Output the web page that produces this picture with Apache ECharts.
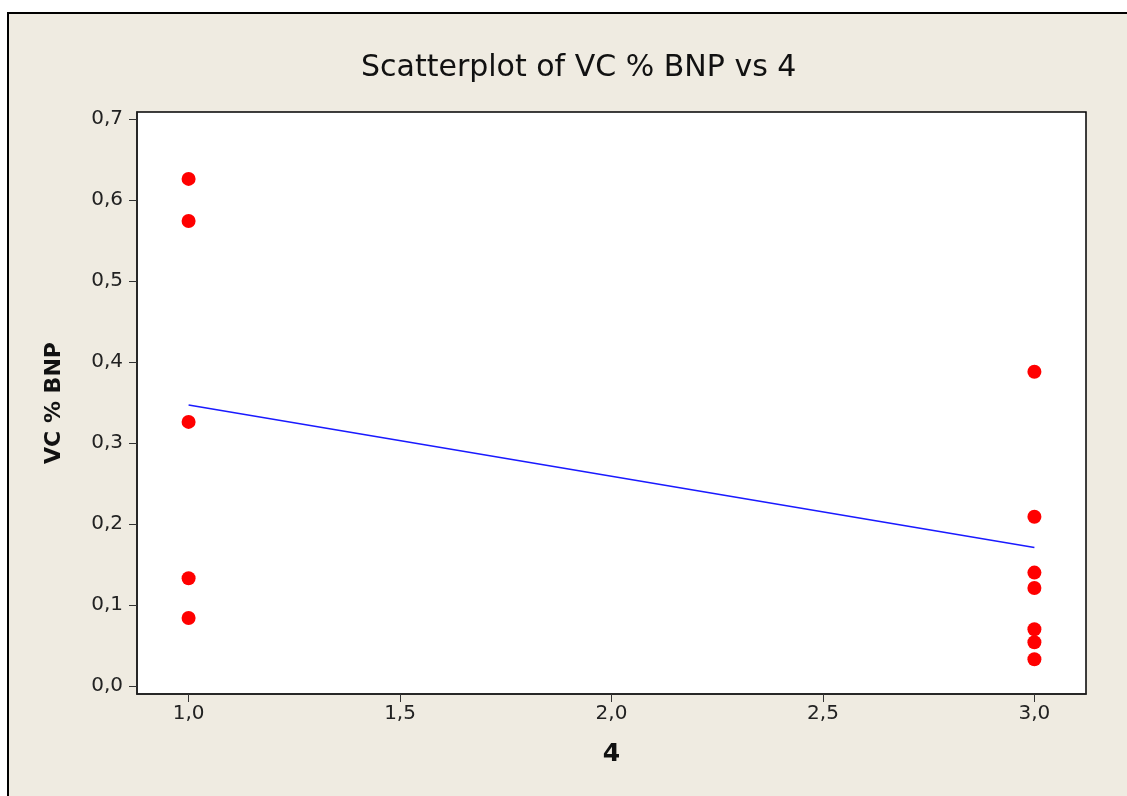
<!DOCTYPE html>
<html>
<head>
<meta charset="utf-8">
<script src="https://cdn.jsdelivr.net/npm/echarts@6/dist/echarts.min.js"></script>
<style>
  html, body { margin: 0; padding: 0; background: #fff; }
  #main { width: 1127px; height: 796px; }
</style>
</head>
<body>
<div id="main"></div>
<script>
var myChart = echarts.init(document.getElementById('main'), null, {renderer: 'canvas'});

// points
var groupX = [1, 1, 1, 1, 1, 3, 3, 3, 3, 3, 3, 3];
var bnpValues = [0.626, 0.574, 0.326, 0.133, 0.084, 0.388, 0.209, 0.140, 0.121, 0.070, 0.054, 0.033];
// fitted line ends
var fitX = [1, 3];
var fitY = [0.347, 0.171];
// tick labels
var xTicks = [1.0, 1.5, 2.0, 2.5, 3.0];
var yTicks = [0.0, 0.1, 0.2, 0.3, 0.4, 0.5, 0.6, 0.7];

var pts = groupX.map(function (x, i) { return [x, bnpValues[i]]; });
var fitPts = fitX.map(function (x, i) { return [x, fitY[i]]; });

function comma(v) { return v.toFixed(1).replace('.', ','); }

var font = 'DejaVu Sans';

var option = {
    backgroundColor: '#ffffff',
    animation: false,
    graphic: [{
        type: 'rect',
        left: 7, top: 12,
        shape: {width: 1130, height: 800},
        style: {fill: '#efebe1', stroke: '#000', lineWidth: 2},
        z: -10
    }],
    title: {
        text: 'Scatterplot of VC % BNP vs 4',
        left: 356,
        top: 48,
        textStyle: {fontFamily: font, fontSize: 30, fontWeight: 'normal', color: '#111'}
    },
    grid: {
        left: 137, top: 112, right: 41, bottom: 102,
        show: true,
        backgroundColor: '#ffffff',
        borderColor: '#000',
        borderWidth: 1.5
    },
    xAxis: {
        type: 'value',
        min: 0.878, max: 3.122,
        name: '4',
        nameLocation: 'middle',
        nameGap: 48,
        nameTextStyle: {fontFamily: font, fontSize: 25, fontWeight: 'bold', color: '#111'},
        axisLine: {onZero: false, lineStyle: {color: '#222', width: 1.5}},
        axisTick: {show: true, length: 8, customValues: xTicks, lineStyle: {color: '#333'}},
        axisLabel: {
            customValues: xTicks,
            formatter: comma,
            margin: 10,
            fontFamily: font, fontSize: 20, color: '#222'
        },
        splitLine: {show: false}
    },
    yAxis: {
        type: 'value',
        min: -0.0099, max: 0.7086,
        name: 'VC % BNP',
        nameLocation: 'middle',
        nameGap: 72,
        nameTextStyle: {fontFamily: font, fontSize: 22, fontWeight: 'bold', color: '#111'},
        axisLine: {onZero: false, lineStyle: {color: '#222', width: 1.5}},
        axisTick: {show: true, length: 8, customValues: yTicks, lineStyle: {color: '#333'}},
        axisLabel: {
            customValues: yTicks,
            formatter: comma,
            margin: 14,
            fontFamily: font, fontSize: 20, color: '#222'
        },
        splitLine: {show: false}
    },
    series: [{
        name: 'fit',
        type: 'line',
        data: fitPts,
        symbol: 'none',
        lineStyle: {color: '#1a1aff', width: 1.5},
        z: 2
    }, {
        name: 'VC % BNP',
        type: 'scatter',
        data: pts,
        symbol: 'circle',
        symbolSize: 14,
        itemStyle: {color: '#ff0000', opacity: 1},
        z: 3
    }]
};

myChart.setOption(option);
</script>
</body>
</html>
